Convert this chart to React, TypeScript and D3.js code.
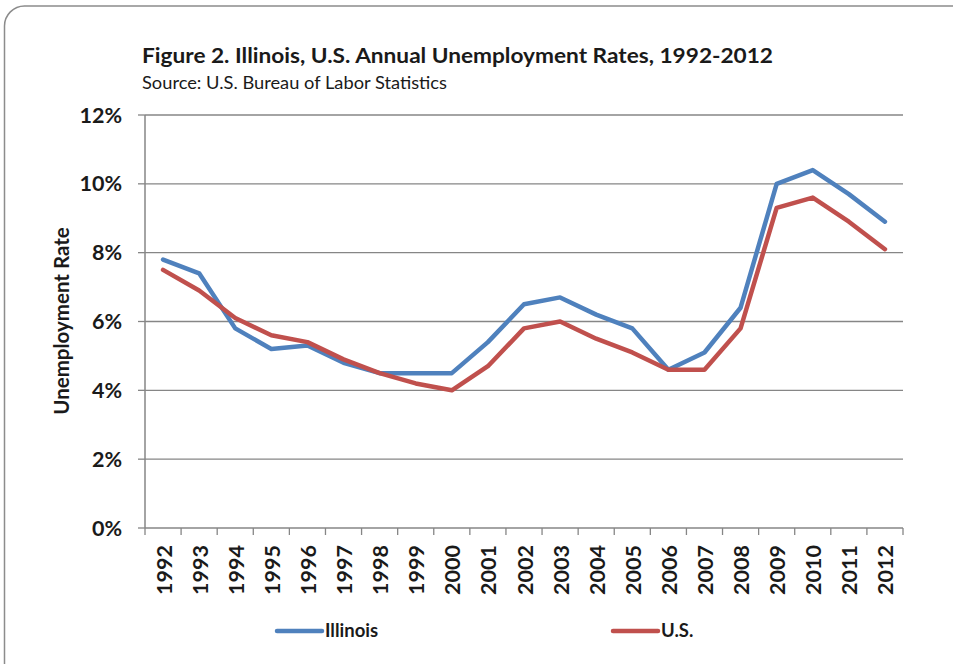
import React from "react";
import * as d3 from "d3";

const years = ["1992","1993","1994","1995","1996","1997","1998","1999","2000","2001","2002","2003","2004","2005","2006","2007","2008","2009","2010","2011","2012"];
const illinois = [7.8,7.4,5.8,5.2,5.3,4.8,4.5,4.5,4.5,5.4,6.5,6.7,6.2,5.8,4.6,5.1,6.4,10.0,10.4,9.7,8.9];
const us = [7.5,6.9,6.1,5.6,5.4,4.9,4.5,4.2,4.0,4.7,5.8,6.0,5.5,5.1,4.6,4.6,5.8,9.3,9.6,8.9,8.1];
const yTicks = [0,2,4,6,8,10,12];
const seriesNames = ["Illinois","U.S."];
const seriesColors = ["#4F81BD","#C0504D"];

const W = 953, H = 664;
const left = 145, right = 903, top = 115, bottom = 528;
const FONT = "Lato, 'Open Sans', sans-serif";
const TXT = "#1a1a1a";

export default function App() {
  const x = d3.scaleBand<string>().domain(years).range([left, right]);
  const y = d3.scaleLinear().domain([0, 12]).range([bottom, top]);
  const cx = (yr: string) => (x(yr) as number) + x.bandwidth() / 2;
  const line = d3.line<number>().x((_, i) => cx(years[i])).y(d => y(d));
  const series = [illinois, us];
  const boundaries = [...years.map(yr => x(yr) as number), right];

  return (
    <svg width={W} height={H} style={{ position: "absolute", left: 0, top: 0, background: "#fff" }}>
      <rect x={4.5} y={6} width={980} height={690} rx={20} ry={20} fill="#fff" stroke="#8c8c8c" strokeWidth={1.5} />
      <text x={142} y={63} fontFamily={FONT} fontWeight={700} fontSize={20.5} fill={TXT} textLength={631} lengthAdjust="spacingAndGlyphs">Figure 2. Illinois, U.S. Annual Unemployment Rates, 1992-2012</text>
      <text x={142} y={89} fontFamily={FONT} fontSize={16.5} fill={TXT} textLength={305} lengthAdjust="spacingAndGlyphs">Source: U.S. Bureau of Labor Statistics</text>

      {yTicks.filter(t => t > 0).map(t => (
        <line key={"g" + t} x1={left} x2={right} y1={y(t)} y2={y(t)} stroke="#868686" strokeWidth={1.3} />
      ))}
      {yTicks.map(t => (
        <g key={"t" + t}>
          <line x1={left - 7} x2={left} y1={y(t)} y2={y(t)} stroke="#868686" strokeWidth={1.3} />
          <text x={122} y={y(t)} dy="0.35em" textAnchor="end" fontFamily={FONT} fontWeight={700} fontSize={21.5} fill={TXT}>{t}%</text>
        </g>
      ))}
      <line x1={left} x2={left} y1={top} y2={bottom} stroke="#868686" strokeWidth={1.5} />
      <line x1={left} x2={right} y1={bottom} y2={bottom} stroke="#868686" strokeWidth={1.5} />
      {boundaries.map((b, i) => (
        <line key={"xb" + i} x1={b} x2={b} y1={bottom} y2={bottom + 7} stroke="#868686" strokeWidth={1.3} />
      ))}
      {years.map(yr => (
        <text key={"xl" + yr} transform={`translate(${cx(yr) + 1},545) rotate(-90)`} textAnchor="end" dy="0.35em" fontFamily={FONT} fontWeight={700} fontSize={21.5} fill={TXT}>{yr}</text>
      ))}
      <text transform="translate(62,321) rotate(-90)" textAnchor="middle" dy="0.35em" fontFamily={FONT} fontWeight={700} fontSize={20.5} fill={TXT}>Unemployment Rate</text>

      {series.map((s, i) => (
        <path key={"s" + i} d={line(s) as string} fill="none" stroke={seriesColors[i]} strokeWidth={4.5} strokeLinejoin="round" strokeLinecap="round" />
      ))}

      {[277, 613].map((lx, i) => (
        <g key={"lg" + i}>
          <line x1={lx} x2={lx + 45} y1={631} y2={631} stroke={seriesColors[i]} strokeWidth={4.5} strokeLinecap="round" />
          <text x={lx + 48} y={631} dy="0.35em" fontFamily={FONT} fontWeight={700} fontSize={18.5} fill={TXT}>{seriesNames[i]}</text>
        </g>
      ))}
    </svg>
  );
}
